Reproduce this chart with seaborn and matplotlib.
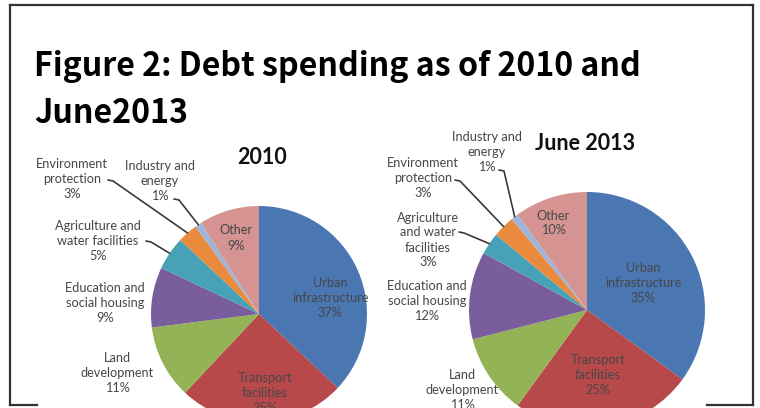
import matplotlib
matplotlib.use("Agg")
import matplotlib.pyplot as plt
import seaborn as sns
import numpy as np

# ---- data -------------------------------------------------------------
names_2010 = ["Urban\ninfrastructure", "Transport\nfacilities", "Land\ndevelopment",
              "Education and\nsocial housing", "Agriculture and\nwater facilities",
              "Environment\nprotection", "Industry and\nenergy", "Other"]
names_2013 = ["Urban\ninfrastructure", "Transport\nfacilities", "Land\ndevelopment",
              "Education and\nsocial housing", "Agriculture\nand water\nfacilities",
              "Environment\nprotection", "Industry and\nenergy", "Other"]
share_2010 = [37, 25, 11, 9, 5, 3, 1, 9]
share_2013 = [35, 25, 11, 12, 3, 3, 1, 10]

main_title = "Figure 2: Debt spending as of 2010 and\nJune2013"
pie_titles = ["2010", "June 2013"]

slice_colors = ["#4a77b2", "#b8494a", "#94b256", "#7a5d9c", "#47a2b8",
                "#ea8a3c", "#9db5d8", "#d59492"]

# ---- layout (pixel space, y grows downward) ------------------------------
W, H = 760, 408
pie_centers = [(259, 314), (587, 310)]
pie_radii = [108, 118]
title_pos = [(262, 157), (585, 143)]

label_xy = [
    [(330, 298), (265, 393), (117, 373), (105, 303), (98, 241), (72, 179), (160, 181), (236, 238)],
    [(643, 283), (598, 375), (462, 390), (427, 301), (428, 240), (423, 178), (487, 152), (553, 223)],
]
# start of leader lines (end of label text) for the small slices
leader_start = [
    {4: (146, 241), 5: (108, 180), 6: (174, 199)},
    {4: (459, 232), 5: (455, 180), 6: (499, 170)},
]

sns.set_theme(style="white")
plt.rcParams["font.family"] = ["Lato", "DejaVu Sans"]

fig = plt.figure(figsize=(W / 100, H / 100), dpi=100)
ax = fig.add_axes([0, 0, 1, 1])
palette = sns.color_palette(slice_colors)

label_color = "#474747"
for k, (values, names) in enumerate([(share_2010, names_2010), (share_2013, names_2013)]):
    cx, cy = pie_centers[k]
    r = pie_radii[k]
    wedges, _ = ax.pie(values, colors=palette, startangle=270, counterclock=True,
                       center=(cx, cy), radius=r, wedgeprops=dict(linewidth=0))
    for i, (name, v) in enumerate(zip(names, values)):
        tx, ty = label_xy[k][i]
        ax.text(tx, ty, f"{name}\n{v}%", ha="center", va="center", fontsize=9.2,
                color=label_color, linespacing=1.3)
    for i, (sx, sy) in leader_start[k].items():
        w = wedges[i]
        mid = np.deg2rad((w.theta1 + w.theta2) / 2)
        ex, ey = cx + r * np.cos(mid), cy + r * np.sin(mid)
        ax.plot([sx, sx + 5, ex], [sy, sy + 1, ey], color="#3a3a3a", lw=1.2,
                solid_capstyle="round", zorder=5)
    tx, ty = title_pos[k]
    ax.text(tx, ty, pie_titles[k], ha="center", va="center", fontsize=15.5,
            fontweight="bold", color="#111111")

# main heading
lines = main_title.split("\n")
for line, base in zip(lines, [76, 123]):
    ax.text(34, base, line, ha="left", va="baseline", fontsize=23.2, fontweight="bold",
            color="#000000", family=["Noto Sans CJK KR", "DejaVu Sans"])

# frame around the figure (bottom edge hidden behind the chart picture)
frame_kw = dict(color="#333333", lw=1.6, solid_capstyle="projecting", zorder=6)
ax.plot([10, 753], [5, 5], **frame_kw)
ax.plot([10, 10], [5, 405], **frame_kw)
ax.plot([753, 753], [5, 405], **frame_kw)
ax.plot([10, 37], [405, 405], **frame_kw)
ax.plot([707, 753], [405, 405], **frame_kw)

ax.set_xlim(0, W)
ax.set_ylim(H, 0)
ax.set_aspect("auto")
ax.axis("off")

fig.savefig("out.png", dpi=100, facecolor="white")
